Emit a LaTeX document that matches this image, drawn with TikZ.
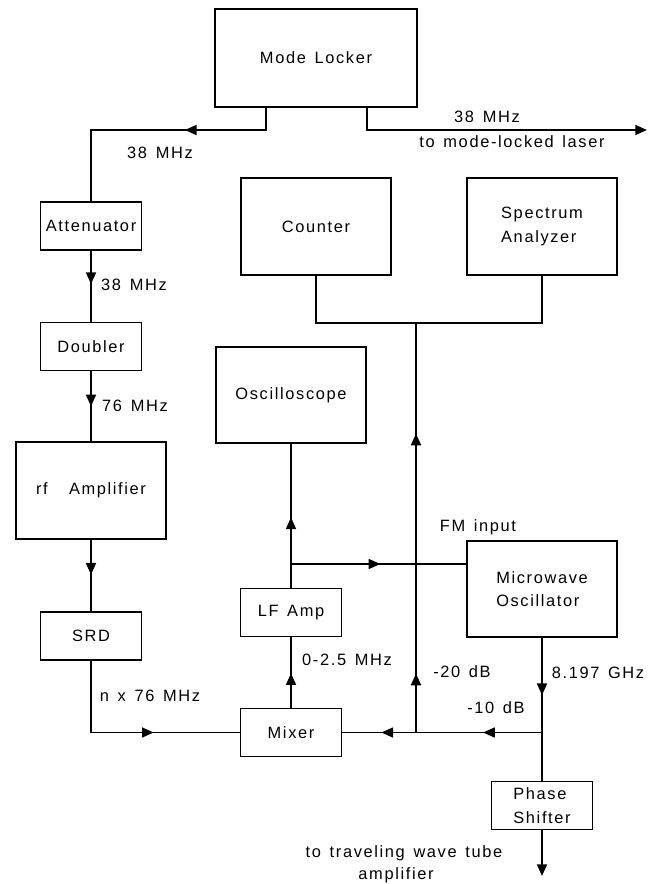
\documentclass[tikz,border=0pt]{standalone}
\usepackage{fontspec}
\setmainfont[LetterSpace=10, WordSpace=1.4]{Liberation Sans}
\usepackage{tikz}
\usetikzlibrary{arrows.meta}
\usetikzlibrary{decorations.markings}

\tikzset{
    blk/.style={draw, line width=1.5pt, inner sep=2pt, font=\fontsize{14}{20}\selectfont},
    bigbox/.style={blk, minimum width=4.5cm, minimum height=2.9cm},
    smallbox/.style={blk, minimum width=3.03cm, minimum height=1.44cm},
    lbl/.style={inner sep=0pt, font=\fontsize{14}{20}\selectfont},
    wire/.style={line width=1.5pt},
    tip/.style={-{Triangle[length=10pt,width=8.5pt]}},
    arrowat/.style={postaction={decorate, decoration={markings,
        mark=at position #1 with {\arrow{Triangle[length=10pt,width=8.5pt]}}}}}
}

\begin{document}
\begin{tikzpicture}[x=0.03cm, y=-0.03cm]
    \useasboundingbox (0,0) rectangle (653,884);
    % Draw the blocks
    \node[bigbox, minimum width=6.06cm, minimum height=2.94cm] (ml) at (316,58) {Mode Locker};
    \node[smallbox] (att) at (91,226) {Attenuator};
    \node[smallbox] (dbl) at (91,346.5) {Doubler};
    \node[bigbox] (rfa) at (91,490.5) {rf\hspace{1.3em}Amplifier};
    \node[smallbox] (srd) at (91,636) {SRD};
    \node[smallbox] (mix) at (291,732.5) {Mixer};
    \node[smallbox] (lfa) at (291,612.5) {LF Amp};
    \node[bigbox] (osc) at (291,395) {Oscilloscope};
    \node[bigbox] (cnt) at (316,226.5) {Counter};
    \node[bigbox, align=left] (spa) at (542,226.5) {Spectrum\\Analyzer};
    \node[bigbox, align=left] (mwo) at (542,589) {Microwave\\Oscillator};
    \node[smallbox, align=left] (phs) at (542,805.5) {Phase\\Shifter};
    % Corners and junctions
    \coordinate (a1) at (266,130);
    \coordinate (a2) at (91,130);
    \coordinate (b1) at (367,130);
    \coordinate (laser) at (647,130);
    \coordinate (fm) at (291,564);
    \coordinate (c1) at (316,323);
    \coordinate (c2) at (542,323);
    \coordinate (c3) at (416,323);
    \coordinate (d1) at (416,732.5);
    \coordinate (d2) at (542,732.5);
    \coordinate (twt) at (542,876);
    % Draw the connections
    \draw[wire, arrowat=0.385] (ml.south -| a1) -- (a1) -- (a2) -- (att.north);
    \draw[wire, tip] (ml.south -| b1) -- (b1) -- (laser);
    \draw[wire, arrowat=0.47] (att.south) -- (dbl.north);
    \draw[wire, arrowat=0.5] (dbl.south) -- (rfa.north);
    \draw[wire, arrowat=0.49] (rfa.south) -- (srd.north);
    \draw[wire, arrowat=0.61] (srd.south) |- (mix.west);
    \draw[wire, arrowat=0.49] (mix.north) -- (lfa.south);
    \draw[wire, arrowat=0.49] (lfa.north) -- (osc.south);
    \draw[wire, arrowat=0.51] (fm) -- (fm -| mwo.west);
    \draw[wire] (cnt.south) -- (c1) -- (c2) -- (spa.south);
    \draw[wire, arrowat=0.144, arrowat=0.73] (d1) -- (c3);
    \draw[wire, arrowat=0.4] (mwo.south) -- (phs.north);
    \draw[wire, arrowat=0.295, arrowat=0.805] (d2) -- (mix.east);
    \draw[wire, tip] (phs.south) -- (twt);
    % Draw the labels
    \node[lbl] (l38a) at (487,117) {38 MHz};
    \node[lbl] (llaser) at (512,142) {to mode-locked laser};
    \node[lbl] (l38b) at (160,153) {38 MHz};
    \node[lbl] (l38c) at (134,285) {38 MHz};
    \node[lbl] (l76) at (135,406) {76 MHz};
    \node[lbl] (ln76) at (150,696) {n x 76 MHz};
    \node[lbl] (llf) at (347,660) {0-2.5 MHz};
    \node[lbl] (lfm) at (478,527) {FM input};
    \node[lbl] (l20) at (462,672) {-20 dB};
    \node[lbl] (lghz) at (598,673) {8.197 GHz};
    \node[lbl] (l10) at (496,708) {-10 dB};
    \node[lbl] (ltwt) at (404,853) {to traveling wave tube};
    \node[lbl] (lamp) at (396,875) {amplifier};
\end{tikzpicture}
\end{document}
